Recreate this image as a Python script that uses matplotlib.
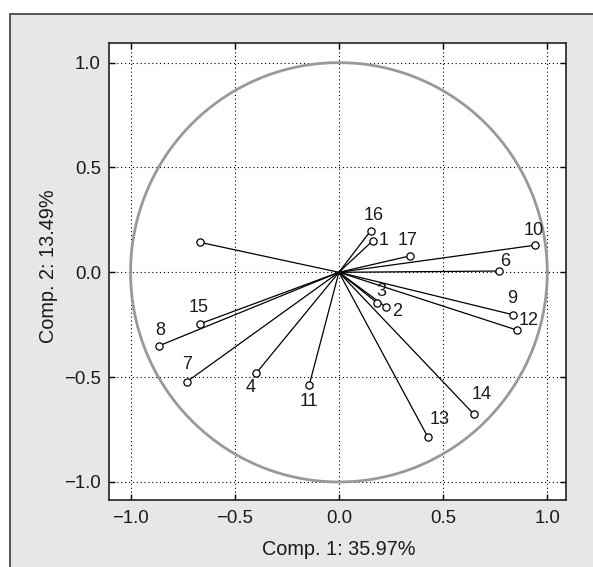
import numpy as np
import matplotlib
matplotlib.use('Agg')
import matplotlib.pyplot as plt
from matplotlib.patches import Rectangle

plt.rcParams['font.family'] = ['Liberation Sans', 'DejaVu Sans']

# loadings (Comp. 1, Comp. 2)
var_labels = ['1', '2', '3', '4', '', '6', '7', '8', '9', '10',
              '11', '12', '13', '14', '15', '16', '17']
comp1 = [0.162, 0.225, 0.184, -0.396, -0.667, 0.768, -0.730, -0.862, 0.834, 0.940,
         -0.142, 0.856, 0.426, 0.648, -0.665, 0.153, 0.340]
comp2 = [0.150, -0.165, -0.146, -0.480, 0.143, 0.006, -0.522, -0.350, -0.202, 0.129,
         -0.536, -0.276, -0.784, -0.677, -0.245, 0.199, 0.078]
# label offsets in pixels (dx right, dy down)
label_dx = [11, 11, 4, -6, 0, 6, 0, 1, 0, -1, 0, 11, 12, 8, -2, 3, -2]
label_dy = [0, 5, -11, 15, 0, -10, -17, -15, -16, -15, 17, -10, -17, -20, -16, -15, -15]

x_title = 'Comp. 1: 35.97%'
y_title = 'Comp. 2: 13.49%'

fig = plt.figure(figsize=(5.93, 5.67), dpi=100, facecolor='white')
fig.add_artist(Rectangle((10 / 593, -0.1), 1.2, 1.1 - 14 / 567,
                         transform=fig.transFigure, facecolor='#e6e7e8',
                         edgecolor='#3a3a3a', linewidth=1.2, zorder=0))

ax = fig.add_axes([109.3 / 593, 1 - 500 / 567, 456.7 / 593, 457.5 / 567])
ax.set_facecolor('white')

t = np.linspace(0, 2 * np.pi, 400)
ax.plot(np.cos(t), np.sin(t), color='#999999', linewidth=2.0, zorder=2)

for x, y in zip(comp1, comp2):
    ax.plot([0, x], [0, y], color='black', linewidth=0.9, zorder=3)
ax.plot(comp1, comp2, 'o', markersize=5.2, markerfacecolor='white',
        markeredgecolor='black', markeredgewidth=0.9, zorder=4)

for lab, x, y, dx, dy in zip(var_labels, comp1, comp2, label_dx, label_dy):
    if lab:
        ax.annotate(lab, (x, y), xytext=(dx * 0.72, -dy * 0.72),
                    textcoords='offset points', ha='center', va='center',
                    fontsize=13, color='#1a1a1a', zorder=5)

ax.set_xlim(-1.102, 1.090)
ax.set_ylim(-1.086, 1.096)
ticks = [-1.0, -0.5, 0.0, 0.5, 1.0]
ax.set_xticks(ticks)
ax.set_yticks(ticks)
ax.set_xticklabels(['\u22121.0', '\u22120.5', '0.0', '0.5', '1.0'])
ax.set_yticklabels(['\u22121.0', '\u22120.5', '0.0', '0.5', '1.0'])
ax.tick_params(direction='in', length=4, width=1.0, top=True, right=True,
               labelsize=13.4, labelcolor='#1a1a1a')
ax.tick_params(axis='x', pad=7)
ax.tick_params(axis='y', pad=6)
ax.grid(True, color='black', linestyle=(0, (1, 2.5)), linewidth=0.8)
for s in ax.spines.values():
    s.set_linewidth(1.2)
    s.set_color('#222222')

ax.text(0.502, -0.108, x_title, transform=ax.transAxes, ha='center', va='center',
        fontsize=14.3, color='#1a1a1a')
ax.text(-0.1336, 0.512, y_title, transform=ax.transAxes, ha='center', va='center',
        rotation=90, fontsize=14.3, color='#1a1a1a')

plt.savefig('out.png', dpi=100, facecolor=fig.get_facecolor())
plt.close(fig)
